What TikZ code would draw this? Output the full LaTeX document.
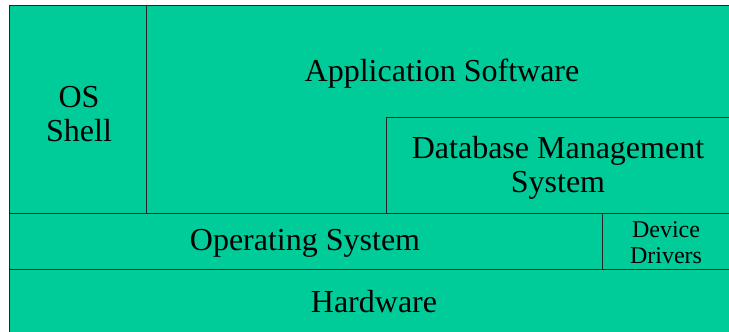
\documentclass[tikz,border=0pt]{standalone}
\usepackage{fontspec}
\setmainfont{Liberation Serif}
\definecolor{teal}{RGB}{0,204,153}
\begin{document}
\begin{tikzpicture}[x=1pt,y=-1pt,
  layer/.style={draw=black!85,line width=1pt,fill=teal},
  big/.style={font=\fontsize{32}{34}\selectfont,align=center,inner sep=0pt},
  small/.style={font=\fontsize{24}{26}\selectfont,align=center,inner sep=0pt}]
\useasboundingbox (0,0) rectangle (729,332);
\fill[white] (0,0) rectangle (729,332);
% top area
\draw[layer] (9.5,5) rectangle (740,213);
\draw[layer] (9.5,5) rectangle (146,213);
\draw[layer] (386,117) rectangle (740,213);
% operating system row
\draw[layer] (9.5,213) rectangle (740,269);
\draw[layer] (602,213) rectangle (740,269);
% hardware
\draw[layer] (9.5,269) rectangle (740,345);
\node[big] (shell) at (79,114) {OS\\Shell};
\node[big] (app) at (442,74) {Application Software};
\node[big] (dbms) at (558,168) {Database Management\\System};
\node[big] (os) at (305,243) {Operating System};
\node[small] (dev) at (666,243) {Device\\Drivers};
\node[big] (hw) at (374,302) {Hardware};
\end{tikzpicture}
\end{document}
